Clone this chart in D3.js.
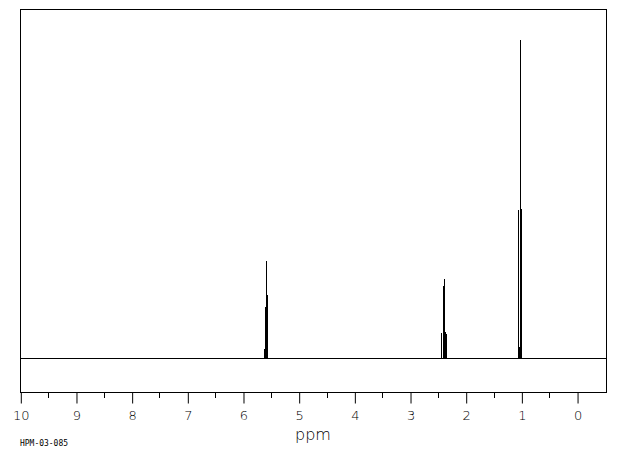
<!DOCTYPE html>
<html>
<head>
<meta charset="utf-8">
<script src="https://cdn.jsdelivr.net/npm/d3@7"></script>
<style>
  html, body { margin: 0; padding: 0; background: #fff; }
  svg { display: block; }
</style>
</head>
<body>
<div id="chart-wrapper"></div>
<script>
// Peak sticks (ppm, relative height)
let peakPpm       = [5.625, 5.607, 5.589, 5.571,  2.438, 2.411, 2.393, 2.370, 2.352,  1.052, 1.038, 1.023, 1.011]
let peakIntensity = [2.8,   16.0,  30.5,  19.8,   7.9,   22.6,  24.8,  8.2,   7.5,    46.5,  3.5,   100,   46.9]
let tickLabels = [10, 9, 8, 7, 6, 5, 4, 3, 2, 1, 0]
let minorTicks = [9.5, 8.5, 7.5, 6.5, 5.5, 4.5, 3.5, 2.5, 1.5, 0.5]
let xTitle = "ppm"
let sampleId = "HPM-03-085"

let width = 620
let height = 455

// Plot frame
let box = {left: 20, top: 9, right: 606, bottom: 392}

const draw = () => {
  var svg = d3.select("#chart-wrapper")
    .append("svg")
    .attr("width", width)
    .attr("height", height)

  // ppm runs right to left
  var xScale = d3.scaleLinear().domain([10, -0.52]).range([box.left + 0.3, box.right])
  var yScale = d3.scaleLinear().domain([0, 100]).range([358, 40])

  // frame
  svg.append("rect")
    .attr("x", box.left + 0.5)
    .attr("y", box.top + 0.5)
    .attr("width", box.right - box.left)
    .attr("height", box.bottom - box.top)
    .attr("fill", "none")
    .attr("stroke", "#000")
    .attr("stroke-width", 1)

  // baseline
  svg.append("line")
    .attr("x1", box.left)
    .attr("x2", box.right)
    .attr("y1", Math.round(yScale(0)) + 0.5)
    .attr("y2", Math.round(yScale(0)) + 0.5)
    .attr("stroke", "#000")
    .attr("shape-rendering", "crispEdges")

  // peaks
  svg.append("g")
    .selectAll("line")
    .data(peakPpm)
    .join("line")
    .attr("x1", d => Math.round(xScale(d)) + 0.5)
    .attr("x2", d => Math.round(xScale(d)) + 0.5)
    .attr("y1", yScale(0) + 0.5)
    .attr("y2", (d, i) => yScale(peakIntensity[i]))
    .attr("stroke", "#000")
    .attr("stroke-width", 1.4)
    .attr("shape-rendering", "crispEdges")

  // bottom axis
  var x_axis = d3.axisBottom(xScale)
    .tickValues(tickLabels)
    .tickFormat(d3.format("d"))
    .tickSizeInner(11)
    .tickSizeOuter(0)
    .tickPadding(7)
  var xAxis = svg.append("g")
    .attr("transform", `translate(0.5,${box.bottom + 0.5})`)
    .call(x_axis)
  xAxis.select(".domain").remove()
  xAxis.selectAll("line").attr("stroke", "#000")
  xAxis.selectAll("text")
    .attr("fill", "#000")
    .attr("font-size", 13)
    .attr("font-family", "DejaVu Sans")
    .attr("font-weight", 200)

  // minor ticks
  svg.append("g")
    .selectAll("line")
    .data(minorTicks)
    .join("line")
    .attr("x1", d => Math.round(xScale(d)) + 0.5)
    .attr("x2", d => Math.round(xScale(d)) + 0.5)
    .attr("y1", box.bottom)
    .attr("y2", box.bottom + 6)
    .attr("stroke", "#000")

  // axis title
  svg.append("text")
    .attr("x", 313)
    .attr("y", 440)
    .attr("text-anchor", "middle")
    .attr("font-size", 16)
    .attr("font-family", "DejaVu Sans")
    .attr("font-weight", 200)
    .attr("fill", "#000")
    .text(xTitle)

  // sample id
  svg.append("text")
    .attr("x", 20)
    .attr("y", 446)
    .attr("font-size", 8.5)
    .attr("font-family", "DejaVu Sans Mono")
    .attr("textLength", 48)
    .attr("lengthAdjust", "spacingAndGlyphs")
    .attr("fill", "#000")
    .text(sampleId)
}

draw()
</script>
</body>
</html>
